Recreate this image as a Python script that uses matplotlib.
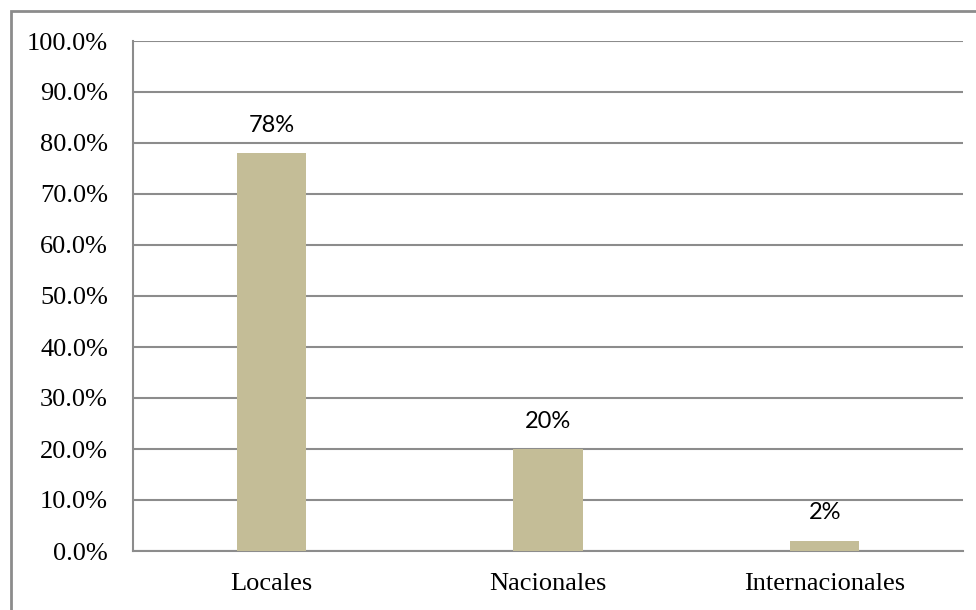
import matplotlib.pyplot as plt
from matplotlib.patches import Rectangle
from matplotlib.ticker import FuncFormatter

# porcentaje de clientes por origen
categorias = ['Locales', 'Nacionales', 'Internacionales']
porcentajes = [78, 20, 2]
etiquetas = ['78%', '20%', '2%']

W, H = 976, 610
fig = plt.figure(figsize=(W / 100, H / 100), dpi=100)

# marco exterior del grafico
fig.patches.append(Rectangle((11 / W, -0.1), 1.2, (H - 11) / H + 0.1,
                             transform=fig.transFigure, fill=False,
                             edgecolor='#8c8c8c', linewidth=2))

ax = fig.add_axes([133 / W, (H - 551) / H, (963 - 133) / W, 510 / H])

x = range(len(categorias))
ax.bar(x, porcentajes, width=0.25, color='#c4bd97', zorder=3)
for i, (v, t) in enumerate(zip(porcentajes, etiquetas)):
    ax.text(i, v + 3.4, t, ha='center', va='bottom', fontsize=17,
            family='Lato', color='black')

ax.set_xlim(-0.5, 2.5)
ax.set_ylim(0, 100)
ax.set_yticks(range(0, 101, 10))
ax.yaxis.set_major_formatter(FuncFormatter(lambda v, p: '%.1f%%' % v))
ax.set_xticks(list(x))
ax.set_xticklabels(categorias)

ax.grid(axis='y', color='#8c8c8c', linewidth=1.5, zorder=0)
for s in ['top', 'right']:
    ax.spines[s].set_visible(False)
for s in ['left', 'bottom']:
    ax.spines[s].set_color('#8c8c8c')
    ax.spines[s].set_linewidth(1.5)

ax.tick_params(axis='both', length=0, labelsize=19)
ax.tick_params(axis='y', pad=18)
ax.tick_params(axis='x', pad=16)
for lbl in ax.get_xticklabels() + ax.get_yticklabels():
    lbl.set_family('Liberation Serif')

fig.savefig('out.png', dpi=100)
